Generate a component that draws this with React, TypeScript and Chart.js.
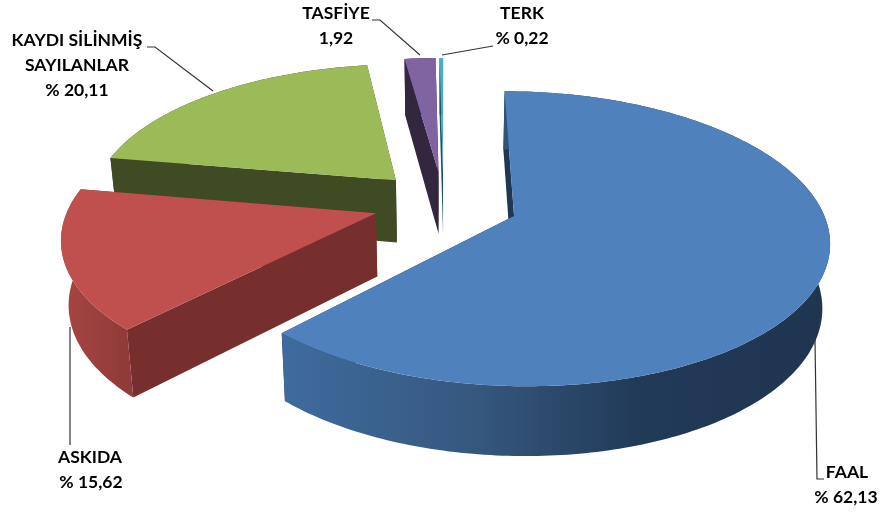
import React, { useEffect, useRef } from "react";
import { Chart, registerables } from "chart.js";

Chart.register(...registerables);

const categories = ["FAAL", "ASKIDA", "KAYDI SİLİNMİŞ SAYILANLAR", "TASFİYE", "TERK"];
const shares = [62.13, 15.62, 20.11, 1.92, 0.22];
const faceColors = ["#4f81bd", "#c0504d", "#9bbb59", "#8064a2", "#4bacc6"];
const cutColors = ["#1f3754", "#772f2d", "#3f4c23", "#33263f", "#1f5566"];
const explodeBy = [0.245, 0.23, 0.23, 0.23, 0.23];
const rimStops = [
  [[0, "#3f6b9e"], [0.35, "#36587f"], [0.65, "#213a58"], [1, "#1f3550"]],
  [[0, "#a84643"], [1, "#8f3b39"]],
  [[0, "#3f4c23"], [1, "#3f4c23"]],
  [[0, "#33263f"], [1, "#33263f"]],
  [[0, "#1f5566"], [1, "#1f5566"]],
] as [number, string][][];

const labelLines = [
  { lines: ["FAAL", "% 62,13"], xs: [847, 846], ys: [472, 497], leader: [[815, 339], [817, 479], [824, 479]] },
  { lines: ["ASKIDA", "% 15,62"], xs: [90, 91], ys: [457, 482], leader: [[70, 327], [70, 445]] },
  { lines: ["KAYDI SİLİNMİŞ", "SAYILANLAR", "% 20,11"], xs: [77, 77, 77], ys: [40, 65, 90], leader: [[147, 47], [155, 47], [213, 91]] },
  { lines: ["TASFİYE", "1,92"], xs: [336, 336], ys: [13, 38], leader: [[372, 20], [380, 20], [420, 55]] },
  { lines: ["TERK", "% 0,22"], xs: [522, 522], ys: [13, 38], leader: [[493, 46], [442, 55]] },
];

const CX = 443.5, CY = 203, A = 306, C = 140, B = 0.1525, DEPTH = 63;

const project = (u: number, v: number, z: number): [number, number] => {
  const s = 1 + B * v;
  return [CX + (A * u / s) * (1 - 0.02 * z), CY - (C * v) / s + (z * DEPTH) / (1 + 0.09 * v)];
};

const pie3d = {
  id: "pie3d",
  beforeDatasetDraw(chart: any) {
    const ctx: CanvasRenderingContext2D = chart.ctx;
    const arcs: any[] = chart.getDatasetMeta(0).data;
    const geo = arcs.map((arc, i) => {
      const t0 = arc.startAngle + Math.PI / 2;
      const t1 = arc.endAngle + Math.PI / 2;
      const mid = (t0 + t1) / 2;
      const e = explodeBy[i];
      return { i, t0, t1, ou: e * Math.sin(mid), ov: e * Math.cos(mid), color: arc.options.backgroundColor };
    });
    const order = [...geo].sort((p, q) => q.ov - p.ov);
    const poly = (pts: [number, number][], fill: string | CanvasGradient) => {
      ctx.beginPath();
      pts.forEach((p, k) => (k ? ctx.lineTo(p[0], p[1]) : ctx.moveTo(p[0], p[1])));
      ctx.closePath();
      ctx.fillStyle = fill;
      ctx.fill();
    };
    for (const g of order) {
      const steps = Math.max(4, Math.ceil((g.t1 - g.t0) * 60));
      const rim = (z: number) => {
        const out: [number, number][] = [];
        for (let k = 0; k <= steps; k++) {
          const t = g.t0 + ((g.t1 - g.t0) * k) / steps;
          out.push(project(g.ou + Math.sin(t), g.ov + Math.cos(t), z));
        }
        return out;
      };
      const top = rim(0);
      const bottom = rim(1);
      const apex0 = project(g.ou, g.ov, 0);
      const apex1 = project(g.ou, g.ov, 1);
      poly([apex0, top[0], bottom[0], apex1], cutColors[g.i]);
      poly([apex0, top[steps], bottom[steps], apex1], cutColors[g.i]);
      const xs = top.map((p) => p[0]);
      const grad = ctx.createLinearGradient(Math.min(...xs), 0, Math.max(...xs), 0);
      rimStops[g.i].forEach(([o, c]) => grad.addColorStop(o, c));
      poly([...top, ...bottom.slice().reverse()], grad);
      poly([apex0, ...top], g.color);
    }
    return false;
  },
  afterDraw(chart: any) {
    const ctx: CanvasRenderingContext2D = chart.ctx;
    ctx.save();
    ctx.strokeStyle = "#333333";
    ctx.lineWidth = 1.2;
    ctx.fillStyle = "#000000";
    ctx.font = "bold 17.5px Lato";
    ctx.textAlign = "center";
    ctx.textBaseline = "middle";
    for (const l of labelLines) {
      ctx.beginPath();
      l.leader.forEach((p, k) => (k ? ctx.lineTo(p[0], p[1]) : ctx.moveTo(p[0], p[1])));
      ctx.stroke();
      l.lines.forEach((t, k) => ctx.fillText(t, l.xs[k], l.ys[k]));
    }
    ctx.restore();
  },
};

export default function App() {
  const ref = useRef<HTMLCanvasElement>(null);
  useEffect(() => {
    const chart = new Chart(ref.current!, {
      type: "pie",
      data: { labels: categories, datasets: [{ data: shares, backgroundColor: faceColors, borderWidth: 0 }] },
      options: {
        animation: false,
        responsive: false,
        plugins: { legend: { display: false }, tooltip: { enabled: false } },
      },
      plugins: [pie3d],
    } as any);
    return () => chart.destroy();
  }, []);
  return (
    <div style={{ position: "fixed", left: 0, top: 0, width: 882, height: 513, background: "#fff" }}>
      <canvas ref={ref} width={882} height={513} style={{ display: "block" }} />
    </div>
  );
}
